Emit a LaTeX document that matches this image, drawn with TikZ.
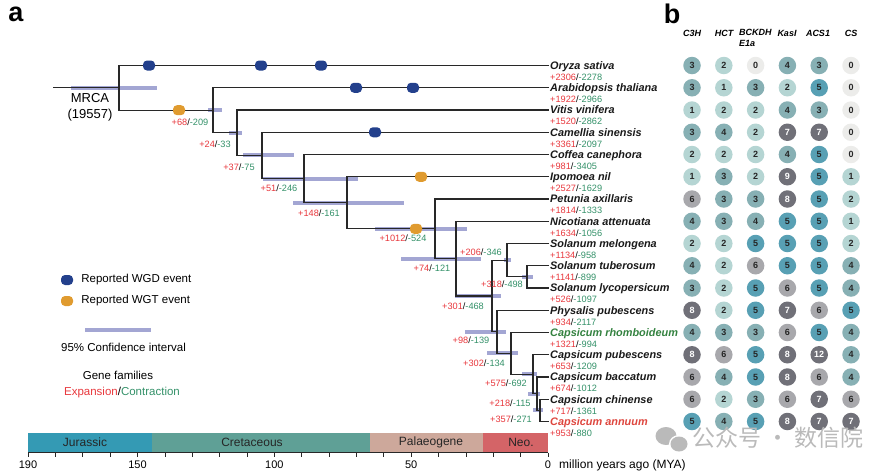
\documentclass[tikz,border=0pt]{standalone}
\usepackage{fontspec}
\setmainfont{Liberation Sans}
\newfontfamily\cjkfont{Noto Sans CJK SC}
\usepackage{xcolor}
\usepackage{tikz}
\usetikzlibrary{positioning}

\definecolor{branchc}{RGB}{40,40,40}
\definecolor{cibar}{RGB}{140,144,200}
\definecolor{wgdc}{RGB}{35,64,140}
\definecolor{wgtc}{RGB}{224,155,47}
\definecolor{expc}{RGB}{232,56,61}
\definecolor{conc}{RGB}{52,145,105}
\definecolor{rhoc}{RGB}{52,130,64}
\definecolor{annc}{RGB}{222,70,62}
\definecolor{jurc}{RGB}{52,154,180}
\definecolor{crec}{RGB}{95,160,150}
\definecolor{palc}{RGB}{205,168,155}
\definecolor{neoc}{RGB}{212,100,103}
\definecolor{dZero}{RGB}{236,236,234}
\definecolor{dLow}{RGB}{181,213,211}
\definecolor{dMid}{RGB}{135,176,180}
\definecolor{dTeal}{RGB}{88,160,180}
\definecolor{dGrey}{RGB}{168,168,172}
\definecolor{dDark}{RGB}{112,112,120}
\definecolor{markc}{RGB}{186,186,186}

\newcommand{\gf}[2]{{\color{expc}+#1}/{\color{conc}-#2}}

\begin{document}
\begin{tikzpicture}[x=1pt, y=-1pt,
	branch/.style={draw=branchc, line width=1.1pt},
	ci/.style={draw=cibar, line width=4pt, opacity=.8},
	wgd/.style={fill=wgdc, rounded corners=4pt, minimum width=12pt, minimum height=10pt, inner sep=0pt},
	wgt/.style={wgd, fill=wgtc},
	spec/.style={anchor=west, inner sep=1pt, text height=7.6pt, text depth=0pt, text=black!90, font=\fontsize{10.9}{12}\selectfont\bfseries\itshape},
	num/.style={anchor=west, inner sep=1pt, text height=6.6pt, text depth=0pt, font=\fontsize{9.2}{11}\selectfont},
	gl/.style={inner sep=0pt, text height=6.6pt, text depth=0pt, font=\fontsize{9.2}{11}\selectfont},
	lgtext/.style={inner sep=0pt, font=\fontsize{11.5}{13}\selectfont},
	hdr/.style={inner sep=0pt, font=\fontsize{9}{11}\selectfont\bfseries\itshape},
	cnt/.style={circle, minimum size=17.5pt, inner sep=0pt, text=black!85, font=\fontsize{9}{10}\selectfont\bfseries},
	v0/.style={fill=dZero}, v1/.style={fill=dLow}, v2/.style={fill=dLow},
	v3/.style={fill=dMid}, v4/.style={fill=dMid}, v5/.style={fill=dTeal},
	v6/.style={fill=dGrey}, v7/.style={fill=dDark, text=white}, v8/.style={v7},
	v9/.style={v7}, v12/.style={v7},
	period/.style={inner sep=0pt, text=black!85, font=\fontsize{12}{14}\selectfont},
	axlab/.style={inner sep=0pt, font=\fontsize{11}{13}\selectfont}]
	\useasboundingbox (0,0) rectangle (895,475);

	% panel labels
	\node[font=\fontsize{27}{27}\selectfont\bfseries] (pa) at (16,14) {a};
	\node[font=\fontsize{27}{27}\selectfont\bfseries] (pb) at (672,14) {b};

	% species
	\node[spec] (oryza) at (549,65.5) {Oryza sativa};
	\node[spec] (arabidopsis) at (549,87.75) {Arabidopsis thaliana};
	\node[spec] (vitis) at (549,110) {Vitis vinifera};
	\node[spec] (camellia) at (549,132.25) {Camellia sinensis};
	\node[spec] (coffea) at (549,154.5) {Coffea canephora};
	\node[spec] (ipomoea) at (549,176.75) {Ipomoea nil};
	\node[spec] (petunia) at (549,199) {Petunia axillaris};
	\node[spec] (nicotiana) at (549,221.25) {Nicotiana attenuata};
	\node[spec] (melongena) at (549,243.5) {Solanum melongena};
	\node[spec] (tuberosum) at (549,265.75) {Solanum tuberosum};
	\node[spec] (lycopersicum) at (549,288) {Solanum lycopersicum};
	\node[spec] (physalis) at (549,310.25) {Physalis pubescens};
	\node[spec, text=rhoc] (rhomboideum) at (549,332.5) {Capsicum rhomboideum};
	\node[spec] (pubescens) at (549,354.75) {Capsicum pubescens};
	\node[spec] (baccatum) at (549,377) {Capsicum baccatum};
	\node[spec] (chinense) at (549,399.25) {Capsicum chinense};
	\node[spec, text=annc] (annuum) at (549,421.5) {Capsicum annuum};

	\node[num] (oryzaN) at (549,77) {\gf{2306}{2278}};
	\node[num] (arabidopsisN) at (549,99.25) {\gf{1922}{2966}};
	\node[num] (vitisN) at (549,121.5) {\gf{1520}{2862}};
	\node[num] (camelliaN) at (549,143.75) {\gf{3361}{2097}};
	\node[num] (coffeaN) at (549,166) {\gf{981}{3405}};
	\node[num] (ipomoeaN) at (549,188.25) {\gf{2527}{1629}};
	\node[num] (petuniaN) at (549,210.5) {\gf{1814}{1333}};
	\node[num] (nicotianaN) at (549,232.75) {\gf{1634}{1056}};
	\node[num] (melongenaN) at (549,255) {\gf{1134}{958}};
	\node[num] (tuberosumN) at (549,277.25) {\gf{1141}{899}};
	\node[num] (lycopersicumN) at (549,299.5) {\gf{526}{1097}};
	\node[num] (physalisN) at (549,321.75) {\gf{934}{2117}};
	\node[num] (rhomboideumN) at (549,344) {\gf{1321}{994}};
	\node[num] (pubescensN) at (549,366.25) {\gf{653}{1209}};
	\node[num] (baccatumN) at (549,388.5) {\gf{674}{1012}};
	\node[num] (chinenseN) at (549,410.75) {\gf{717}{1361}};
	\node[num] (annuumN) at (549,433) {\gf{953}{880}};

	% internal nodes
	\coordinate (stem) at (53,87.9);
	\coordinate (root) at (119,87.9);
	\coordinate (n1) at (213,110.2);
	\coordinate (n2) at (237,132.7);
	\coordinate (n3) at (262,155.45);
	\coordinate (n4) at (304,178.65);
	\coordinate (n5) at (347,202.8);
	\coordinate (n6) at (435,228.8);
	\coordinate (n7) at (456,258.6);
	\coordinate (n8) at (492,296);
	\coordinate (n9) at (507,260.2);
	\coordinate (n10) at (527,276.9);
	\coordinate (n11) at (497,331.8);
	\coordinate (n12) at (511,353.4);
	\coordinate (n13) at (533,374.2);
	\coordinate (n14) at (537,393.7);
	\coordinate (n15) at (540,410.4);

	% confidence intervals
	\draw[ci] (root) ++(-48,0) -- ++(86,0);
	\draw[ci] (n1) ++(-5,0) -- ++(14,0);
	\draw[ci] (n2) ++(-8,0) -- ++(13,0);
	\draw[ci] (n3) ++(-19,0) -- ++(51,0);
	\draw[ci] (n4) ++(-41,0) -- ++(95,0);
	\draw[ci] (n5) ++(-54,0) -- ++(111,0);
	\draw[ci] (n6) ++(-60,0) -- ++(92,0);
	\draw[ci] (n7) ++(-55,0) -- ++(80,0);
	\draw[ci] (n8) ++(-37,0) -- ++(46,0);
	\draw[ci] (n9) ++(-3,0) -- ++(7,0);
	\draw[ci] (n10) ++(-5,0) -- ++(11,0);
	\draw[ci] (n11) ++(-32,0) -- ++(41,0);
	\draw[ci] (n12) ++(-24,0) -- ++(31,0);
	\draw[ci] (n13) ++(-11,0) -- ++(15,0);
	\draw[ci] (n14) ++(-9,0) -- ++(12,0);
	\draw[ci] (n15) ++(-7,0) -- ++(10,0);

	% branches
	\draw[branch] (stem) -- (root);
	\draw[branch] (oryza) -| (root) |- (n1);
	\draw[branch] (arabidopsis) -| (n1) |- (n2);
	\draw[branch] (vitis) -| (n2) |- (n3);
	\draw[branch] (camellia) -| (n3) |- (n4);
	\draw[branch] (coffea) -| (n4) |- (n5);
	\draw[branch] (ipomoea) -| (n5) |- (n6);
	\draw[branch] (petunia) -| (n6) |- (n7);
	\draw[branch] (nicotiana) -| (n7) |- (n8);
	\draw[branch] (n9) -| (n8) |- (n11);
	\draw[branch] (melongena) -| (n9) |- (n10);
	\draw[branch] (tuberosum) -| (n10) |- (lycopersicum);
	\draw[branch] (physalis) -| (n11) |- (n12);
	\draw[branch] (rhomboideum) -| (n12) |- (n13);
	\draw[branch] (pubescens) -| (n13) |- (n14);
	\draw[branch] (baccatum) -| (n14) |- (n15);
	\draw[branch] (chinense) -| (n15) |- (annuum);

	% WGD / WGT events
	\node[wgd] (wgd1) at (149,65.5) {};
	\node[wgd] (wgd2) at (261,65.5) {};
	\node[wgd] (wgd3) at (321,65.5) {};
	\node[wgd] (wgd4) at (356,87.75) {};
	\node[wgd] (wgd5) at (413,87.75) {};
	\node[wgd] (wgd6) at (375,132.25) {};
	\node[wgt] (wgt1) at (179,110.2) {};
	\node[wgt] (wgt2) at (416,228.8) {};
	\node[wgt] (wgt3) at (421,176.75) {};

	% gene family changes on internal branches
	\node[gl] (g1) at (190,122) {\gf{68}{209}};
	\node[gl] (g2) at (215,144) {\gf{24}{33}};
	\node[gl] (g3) at (239,167) {\gf{37}{75}};
	\node[gl] (g4) at (279,188) {\gf{51}{246}};
	\node[gl] (g5) at (319,213) {\gf{148}{161}};
	\node[gl] (g6) at (403,238) {\gf{1012}{524}};
	\node[gl] (g7) at (432,268) {\gf{74}{121}};
	\node[gl] (g8) at (481,252) {\gf{206}{346}};
	\node[gl] (g9) at (502,284) {\gf{318}{498}};
	\node[gl] (g10) at (463,306) {\gf{301}{468}};
	\node[gl] (g11) at (471,340) {\gf{98}{139}};
	\node[gl] (g12) at (484,363) {\gf{302}{134}};
	\node[gl] (g13) at (506,383) {\gf{575}{692}};
	\node[gl] (g14) at (510,403) {\gf{218}{115}};
	\node[gl] (g15) at (511,419) {\gf{357}{271}};

	\node[font=\fontsize{13}{16}\selectfont, align=center, inner sep=0pt] (mrca) at (90,107) {MRCA\\(19557)};

	% legend
	\node[wgd] (lgWgd) at (67,280) {};
	\node[lgtext, right=8pt of lgWgd] (lgWgdT) {Reported WGD event};
	\node[wgt] (lgWgt) at (67,301) {};
	\node[lgtext, right=8pt of lgWgt] (lgWgtT) {Reported WGT event};
	\draw[ci] (85,330) -- (151,330);
	\node[lgtext, anchor=west] (lgCi) at (61,347) {95\% Confidence interval};
	\node[lgtext] (lgGf) at (118,375) {Gene families};
	\node[lgtext] (lgEc) at (122,393) {{\color{expc}Expansion}/{\color{conc}Contraction}};

	% geological time scale
	\fill[jurc] (28,432.5) rectangle (152,452.5);
	\fill[crec] (152,432.5) rectangle (370,452.5);
	\fill[palc] (370,432.5) rectangle (483,452.5);
	\fill[neoc] (483,432.5) rectangle (548,452.5);
	\node[period] (jur) at (85,442.5) {Jurassic};
	\node[period] (cre) at (252,442.5) {Cretaceous};
	\node[period] (pal) at (431,442.5) {Palaeogene};
	\node[period] (neo) at (521,442.5) {Neo.};
	\draw[branchc, line width=.8pt] (28,452.5) -- (548,452.5);
	\foreach \a in {0,10,...,190}
		\draw[branchc, line width=.6pt] ({548-2.7368*\a},452.5) -- ++(0,4);
	\foreach \a in {190,150,100,50,0}
		\node[axlab] at ({548-2.7368*\a},465) {\a};
	\node[axlab, anchor=west, font=\fontsize{12}{14}\selectfont] (mya) at (559,465) {million years ago (MYA)};

	% panel b
	\node[hdr] (hC3H) at (692,33) {C3H};
	\node[hdr] (hHCT) at (724,33) {HCT};
	\node[hdr, align=left, anchor=north west] (hBCK) at (739,29.5) {BCKDH\\E1a};
	\node[hdr] (hKas) at (787,33) {KasI};
	\node[hdr] (hACS) at (818,33) {ACS1};
	\node[hdr] (hCS) at (851,33) {CS};

	\foreach \row [count=\r] in {{3,2,0,4,3,0},{3,1,3,2,5,0},{1,2,2,4,3,0},{3,4,2,7,7,0},
		{2,2,2,4,5,0},{1,3,2,9,5,1},{6,3,3,8,5,2},{4,3,4,5,5,1},{2,2,5,5,5,2},
		{4,2,6,5,5,4},{3,2,5,6,5,4},{8,2,5,7,6,5},{4,3,3,6,5,4},{8,6,5,8,12,4},
		{6,4,5,8,6,4},{6,2,3,6,7,6},{5,4,5,8,7,7}}
		\foreach \v [count=\c] in \row
			\node[cnt, v\v] (d\r-\c) at ({660.2+31.8*\c},{43.25+22.25*\r}) {\v};

	% watermark
	\fill[markc] (666,436) ellipse (10.5pt and 9pt);
	\fill[white] (679,444) ellipse (10pt and 9pt);
	\fill[markc] (679,444) ellipse (8.5pt and 7.5pt);
	\node[font=\cjkfont\fontsize{23}{23}\selectfont, text=markc, anchor=west, inner sep=0pt] (wm) at (692,438) {公众号 · 数信院};
\end{tikzpicture}
\end{document}
